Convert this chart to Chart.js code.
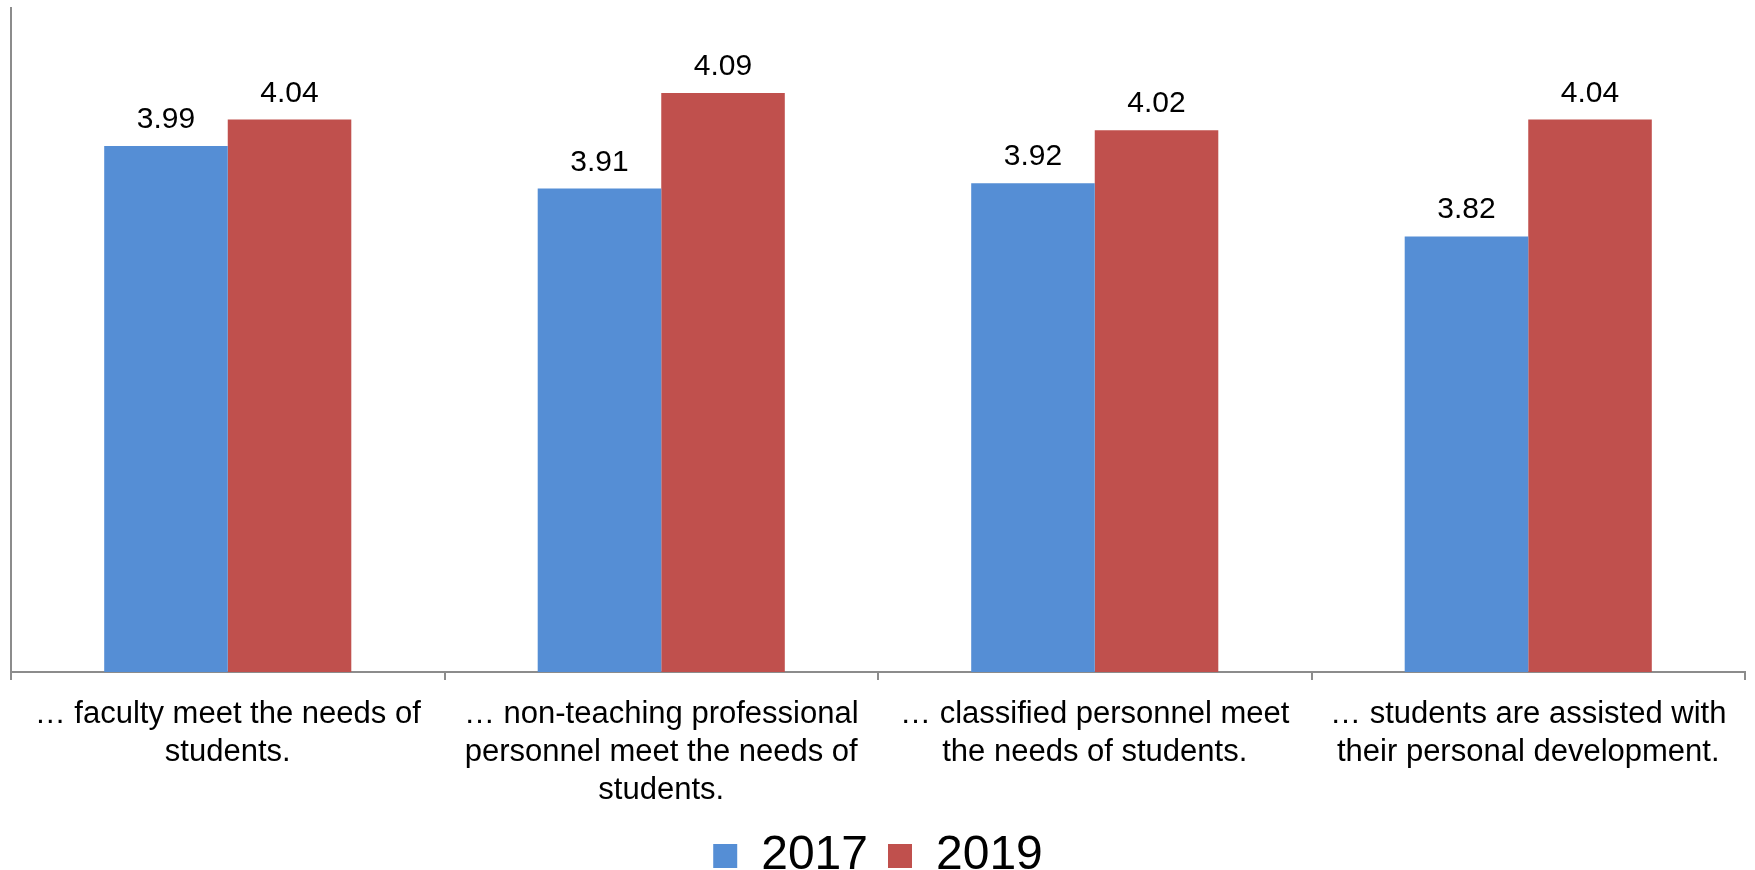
<!DOCTYPE html>
<html>
<head>
<meta charset="utf-8">
<script src="https://cdn.jsdelivr.net/npm/chart.js@4"></script>
<style>
  html, body { margin: 0; padding: 0; background: #fff; overflow: hidden; }
  #wrap { width: 1755px; height: 890px; position: relative; }
</style>
</head>
<body>
<div id="wrap"><canvas id="chart"></canvas></div>
<script>
// categorias (etiquetas partidas en lineas como en el original)
const categories = [
  ["\u2026 faculty meet the needs of", "students."],
  ["\u2026 non-teaching professional", "personnel meet the needs of", "students."],
  ["\u2026 classified personnel meet", "the needs of students."],
  ["\u2026 students are assisted with", "their personal development."]
];
const years = ["2017", "2019"];
const values2017 = [3.99, 3.91, 3.92, 3.82];
const values2019 = [4.04, 4.09, 4.02, 4.04];
const yMin = 3;
const yMax = 4.25;

const FONT = "'Liberation Sans', Arial, sans-serif";
const AXIS = "#8c8c8c";

// etiquetas de valor encima de cada barra
const valueLabels = {
  id: "valueLabels",
  afterDatasetsDraw(chart) {
    const ctx = chart.ctx;
    ctx.save();
    ctx.font = "30px " + FONT;
    ctx.fillStyle = "#000";
    ctx.textAlign = "center";
    ctx.textBaseline = "alphabetic";
    chart.data.datasets.forEach((ds, i) => {
      chart.getDatasetMeta(i).data.forEach((bar, j) => {
        ctx.fillText(ds.data[j].toFixed(2), bar.x, bar.y - 18);
      });
    });
    ctx.restore();
  }
};

new Chart(document.getElementById("chart"), {
  type: "bar",
  data: {
    labels: categories,
    datasets: [
      { label: years[0], data: values2017, backgroundColor: "#558ed5", borderWidth: 0 },
      { label: years[1], data: values2019, backgroundColor: "#c0504d", borderWidth: 0 }
    ]
  },
  options: {
    responsive: true,
    maintainAspectRatio: false,
    animation: false,
    layout: { padding: { top: 8, left: 11, right: 10, bottom: 0 } },
    datasets: { bar: { barPercentage: 1, categoryPercentage: 0.57 } },
    scales: {
      x: {
        offset: true,
        // la leyenda queda pegada a las etiquetas, como en el original
        afterFit(scale) { scale.height -= 12; },
        grid: {
          offset: true,
          drawOnChartArea: false,
          drawTicks: true,
          tickLength: 8,
          color: AXIS,
          lineWidth: 2
        },
        border: { display: true, color: AXIS, width: 2 },
        ticks: {
          color: "#000",
          padding: 15,
          maxRotation: 0,
          autoSkip: false,
          font: { family: FONT, size: 31, lineHeight: 38 / 31 }
        }
      },
      y: {
        min: yMin,
        max: yMax,
        grid: { display: true, drawOnChartArea: false, drawTicks: false },
        border: { display: true, color: AXIS, width: 2 },
        ticks: { display: false }
      }
    },
    plugins: {
      tooltip: { enabled: false },
      legend: {
        position: "bottom",
        labels: {
          color: "#000",
          boxWidth: 24,
          boxHeight: 24,
          padding: 20,
          font: { family: FONT, size: 48 }
        }
      }
    }
  },
  plugins: [valueLabels]
});
</script>
</body>
</html>
